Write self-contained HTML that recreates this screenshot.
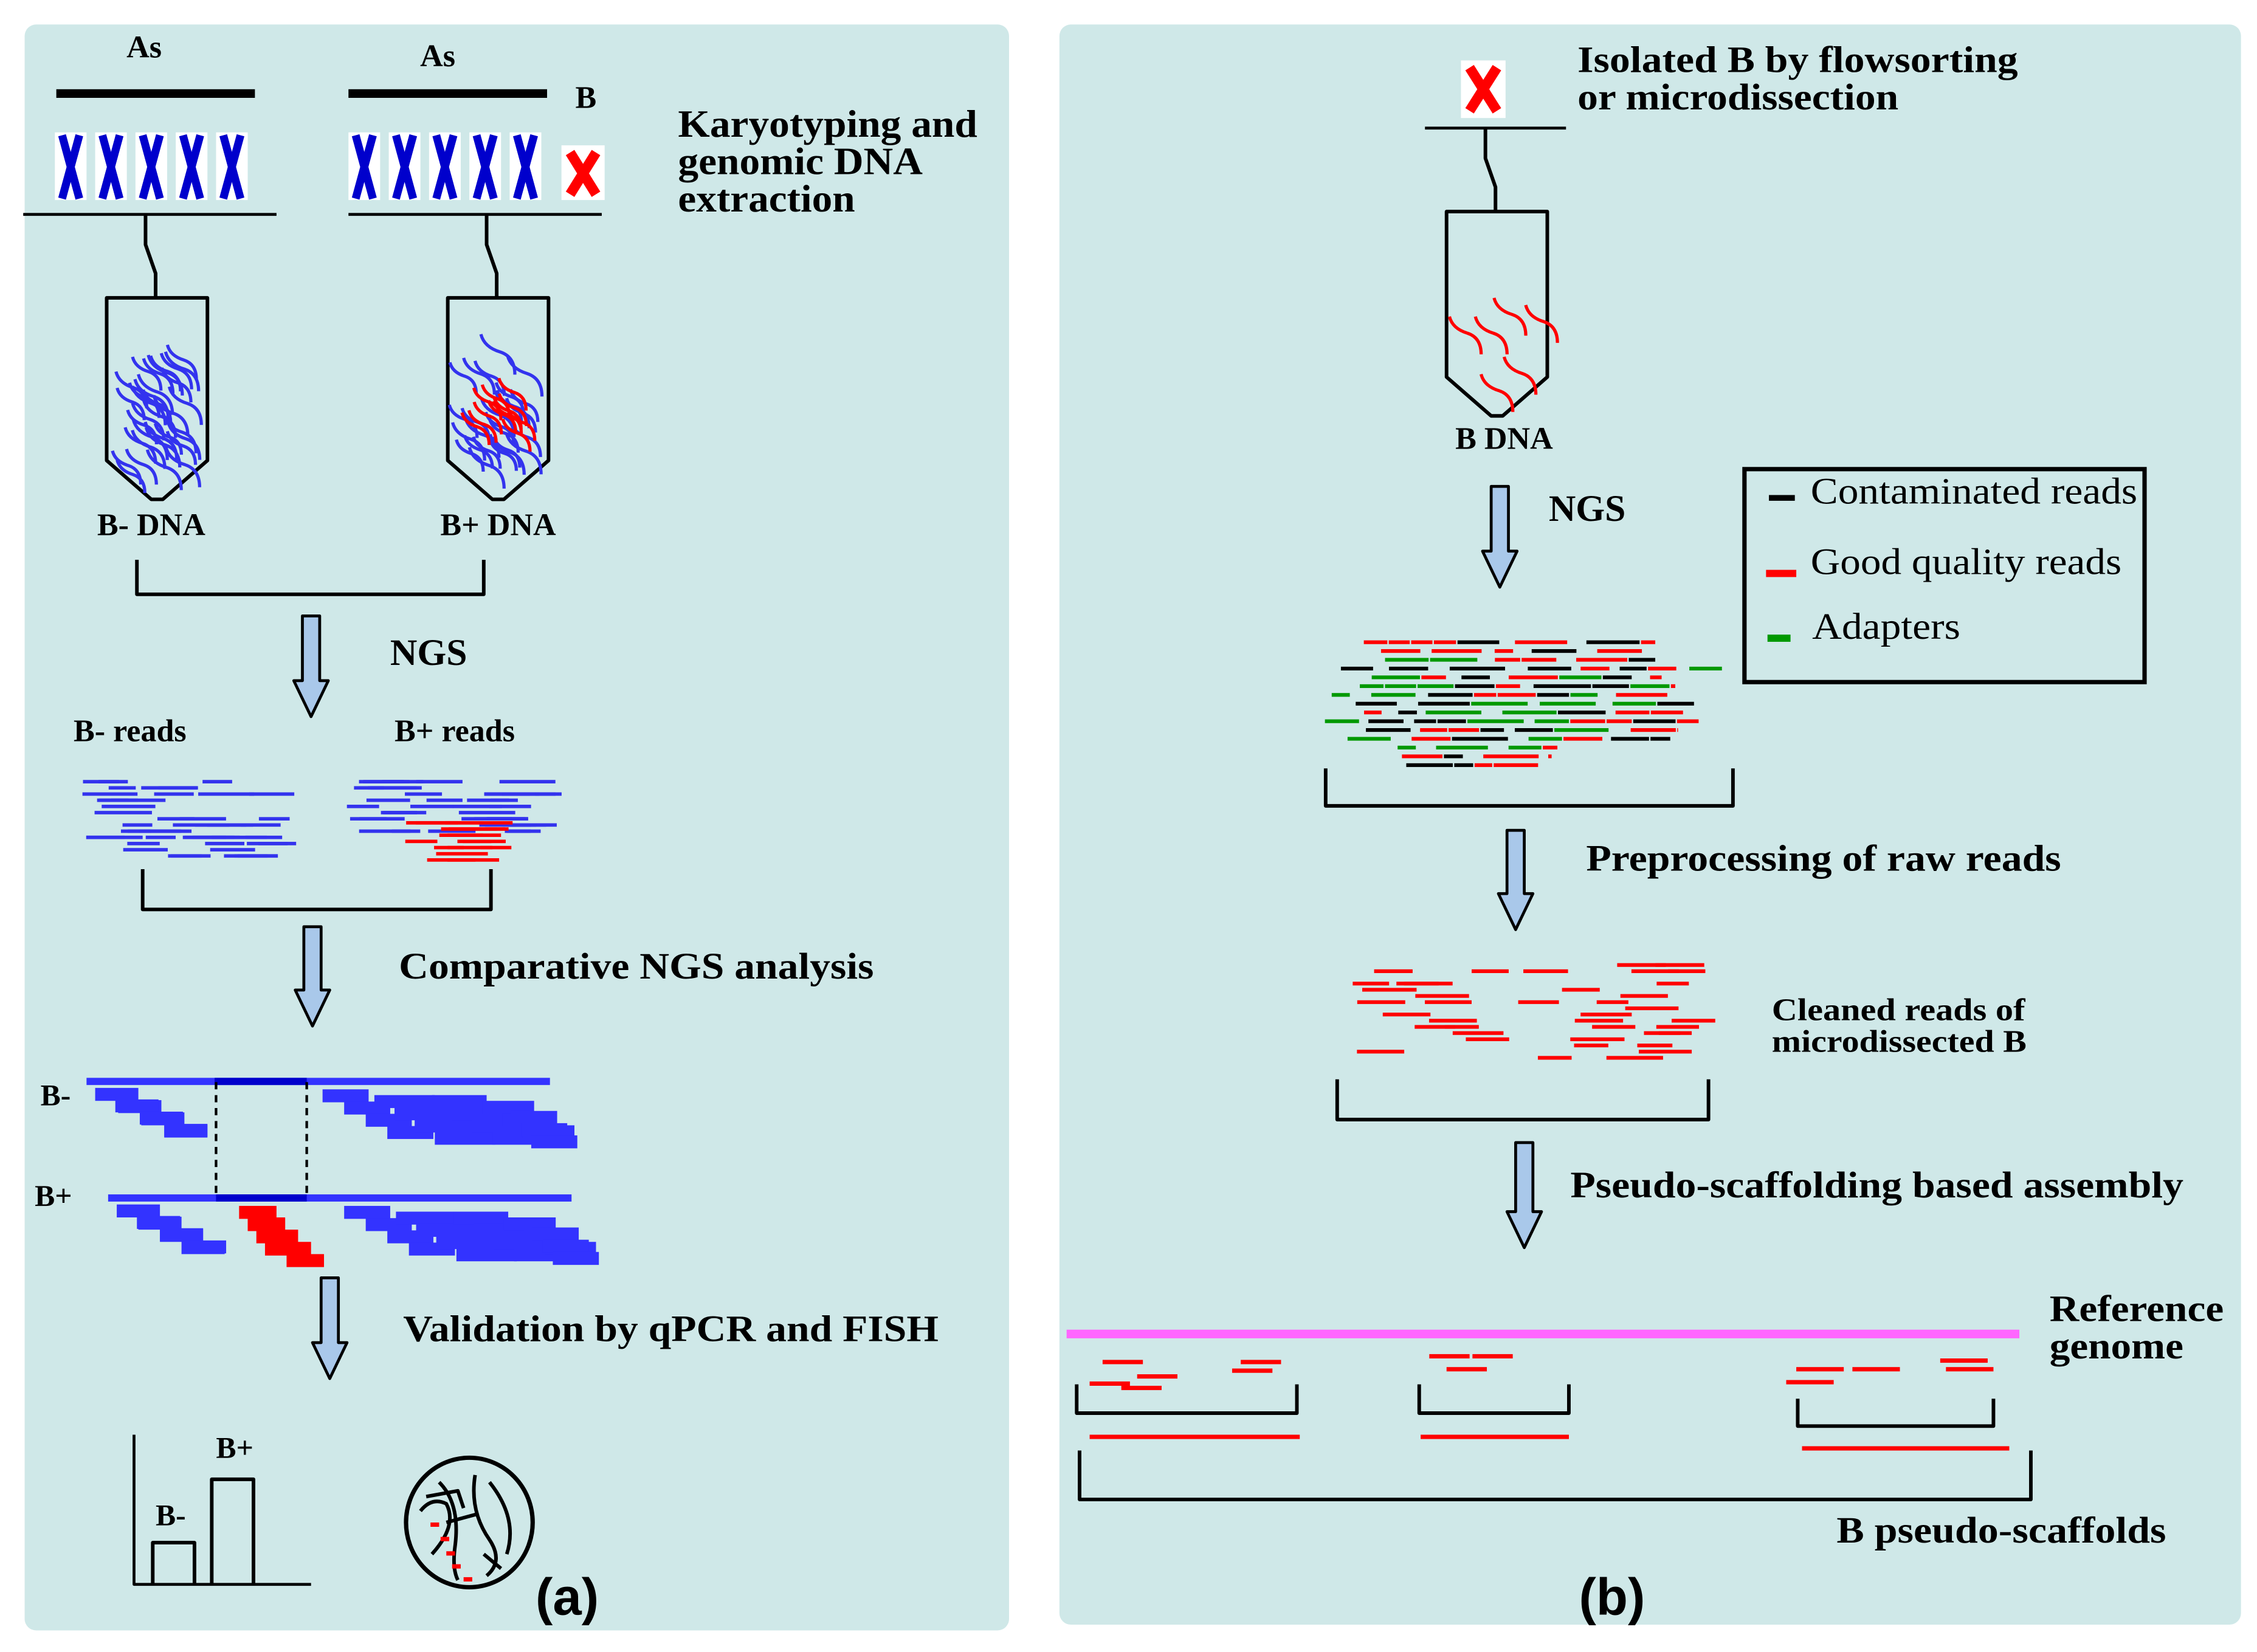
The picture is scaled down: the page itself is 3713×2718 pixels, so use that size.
<!DOCTYPE html>
<html><head><meta charset="utf-8"><style>
html,body{margin:0;padding:0;background:#fff;}
svg{display:block;}
text{font-family:"Liberation Serif",serif;font-weight:bold;fill:#000;}
.r{font-weight:normal;}
</style></head><body>
<svg id="s" xmlns="http://www.w3.org/2000/svg" width="3713" height="2718" viewBox="0 0 1568 1148">
<rect x="0" y="0" width="1568" height="1148" fill="#fff"/>
<rect x="17" y="17" width="684" height="1116" rx="8" fill="#cfe8e8"/>
<rect x="736" y="17" width="821" height="1112" rx="8" fill="#cfe8e8"/>
<g id="g"></g>

<text x="100" y="40" font-size="22" text-anchor="middle">As</text>
<text x="304" y="46" font-size="22" text-anchor="middle">As</text>
<text x="407" y="75" font-size="22" text-anchor="middle">B</text>
<text x="471" y="95" font-size="27" textLength="208" lengthAdjust="spacingAndGlyphs">Karyotyping and</text>
<text x="471" y="121" font-size="27" textLength="170" lengthAdjust="spacingAndGlyphs">genomic DNA</text>
<text x="471" y="147" font-size="27" textLength="123" lengthAdjust="spacingAndGlyphs">extraction</text>
<text x="105" y="372" font-size="22" text-anchor="middle">B- DNA</text>
<text x="346" y="372" font-size="22" text-anchor="middle">B+ DNA</text>
<text x="271" y="462" font-size="26">NGS</text>
<text x="51" y="515" font-size="22">B- reads</text>
<text x="274" y="515" font-size="22">B+ reads</text>
<text x="277" y="680" font-size="26" textLength="330" lengthAdjust="spacingAndGlyphs">Comparative NGS analysis</text>
<text x="28" y="768" font-size="21">B-</text>
<text x="24" y="838" font-size="21">B+</text>
<text x="280" y="932" font-size="26" textLength="372" lengthAdjust="spacingAndGlyphs">Validation by qPCR and FISH</text>
<text x="150" y="1013" font-size="21">B+</text>
<text x="108" y="1060" font-size="21">B-</text>
<text x="372" y="1122" font-size="36" style="font-family:'Liberation Sans',sans-serif">(a)</text>

<text x="1096" y="50" font-size="26" textLength="306" lengthAdjust="spacingAndGlyphs">Isolated B by flowsorting</text>
<text x="1096" y="76" font-size="26" textLength="223" lengthAdjust="spacingAndGlyphs">or microdissection</text>
<text x="1045" y="312" font-size="22" text-anchor="middle">B DNA</text>
<text x="1076" y="362" font-size="26">NGS</text>
<text x="1258" y="350" font-size="26" class="r" textLength="227" lengthAdjust="spacingAndGlyphs">Contaminated reads</text>
<text x="1258" y="399" font-size="26" class="r" textLength="216" lengthAdjust="spacingAndGlyphs">Good quality reads</text>
<text x="1259" y="444" font-size="26" class="r" textLength="103" lengthAdjust="spacingAndGlyphs">Adapters</text>
<text x="1102" y="605" font-size="26" textLength="330" lengthAdjust="spacingAndGlyphs">Preprocessing of raw reads</text>
<text x="1231" y="709" font-size="22" textLength="176" lengthAdjust="spacingAndGlyphs">Cleaned reads of</text>
<text x="1231" y="731" font-size="22" textLength="177" lengthAdjust="spacingAndGlyphs">microdissected B</text>
<text x="1091" y="832" font-size="26" textLength="426" lengthAdjust="spacingAndGlyphs">Pseudo-scaffolding based assembly</text>
<text x="1424" y="918" font-size="26" textLength="121" lengthAdjust="spacingAndGlyphs">Reference</text>
<text x="1424" y="944" font-size="26" textLength="93" lengthAdjust="spacingAndGlyphs">genome</text>
<text x="1276" y="1072" font-size="26" textLength="229" lengthAdjust="spacingAndGlyphs">B pseudo-scaffolds</text>
<text x="1097" y="1122" font-size="36" style="font-family:'Liberation Sans',sans-serif">(b)</text>
</svg>
<script>
(function(){
var g=document.getElementById('g'),NS='http://www.w3.org/2000/svg';
function el(t,a){var e=document.createElementNS(NS,t);for(var k in a)e.setAttribute(k,a[k]);g.appendChild(e);return e;}
function line(x1,y1,x2,y2,c,w,extra){var a={x1:x1,y1:y1,x2:x2,y2:y2,stroke:c,'stroke-width':w};if(extra)for(var k in extra)a[k]=extra[k];return el('line',a);}
function rect(x,y,w,h,c){return el('rect',{x:x,y:y,width:w,height:h,fill:c});}
function path(d,c,w,f){return el('path',{d:d,stroke:c,'stroke-width':w,fill:f||'none','stroke-linejoin':'round'});}
var seed=7;function rnd(){seed=(seed*16807)%2147483647;return (seed-1)/2147483646;}

rect(39,62,138,6,'#000');rect(242,62,138,6,'#000');
line(16,149,192,149,'#000',2);line(242,149,418,149,'#000',2);
line(990,89,1088,89,'#000',2);
function X(cx,col){rect(cx-11,92,22,47,'#fff');
 path('M'+(cx-6)+' 94 Q'+cx+' 116 '+(cx+6)+' 138','#'+col,5.5);
 path('M'+(cx+6)+' 94 Q'+cx+' 116 '+(cx-6)+' 138','#'+col,5.5);}
[49,77,105,133,161].forEach(function(c){X(c,'0000cc');});
[253,281,309,337,365].forEach(function(c){X(c,'0000cc');});
(function(){rect(390,101,30,38,'#fff');path('M396 106 L414 135','#f00',7);path('M414 106 L396 135','#f00',7);})();
(function(){rect(1015,42,31,40,'#fff');path('M1021 47 L1040 77','#f00',7);path('M1040 47 L1021 77','#f00',7);})();

function tube(cx,topLine,ty,by){
 path('M'+(cx-8)+' '+topLine+' L'+(cx-8)+' '+(topLine+21)+' L'+(cx-1)+' '+(topLine+41)+' L'+(cx-1)+' '+ty,'#000',2.5);
 path('M'+(cx-35)+' '+ty+' L'+(cx+35)+' '+ty+' L'+(cx+35)+' '+by+' L'+(cx+4)+' '+(by+27)+' L'+(cx-4)+' '+(by+27)+' L'+(cx-35)+' '+by+' Z','#000',2.5);
}
tube(109,149,207,320);tube(346,149,207,320);tube(1040,89,147,262);
function strand(x,y,c,s){s=s||1;path('M'+x+' '+y+' q'+2*s+' '+8*s+' '+12*s+' '+11*s+' q'+9*s+' '+3*s+' '+9*s+' '+14*s,c,2.2);}
for(var i=0;i<34;i++){strand(78+rnd()*42,235+rnd()*85,'#3333ee',0.85+rnd()*0.3);}
for(var i=0;i<26;i++){strand(312+rnd()*45,232+rnd()*80,'#3333ee',0.85+rnd()*0.3);}
for(var i=0;i<12;i++){strand(318+rnd()*38,262+rnd()*32,'#ff0000',0.9);}
[[1007,220],[1025,220],[1038,207],[1060,212],[1045,248],[1029,260]].forEach(function(p){strand(p[0],p[1],'#ff0000',1.05);});

function br(x1,x2,y1,y2){path('M'+x1+' '+y1+' L'+x1+' '+y2+' L'+x2+' '+y2+' L'+x2+' '+y1,'#000',2.5);}
br(95,336,389,413);br(99,341,604,632);br(921,1204,534,560);br(929,1187,750,778);
br(748,901,962,982);br(986,1090,962,982);br(1249,1385,972,991);br(750,1411,1008,1042);

function arrow(x,y1,y2){var h=25;path('M'+(x-6)+' '+y1+' L'+(x+6)+' '+y1+' L'+(x+6)+' '+(y2-h)+' L'+(x+12)+' '+(y2-h)+' L'+x+' '+y2+' L'+(x-12)+' '+(y2-h)+' L'+(x-6)+' '+(y2-h)+' Z','#000',2,'#a9c8ea');}
arrow(216,428,498);arrow(217,644,713);arrow(229,888,958);
arrow(1042,338,408);arrow(1053,577,646);arrow(1059,794,867);

function reads(x0,x1,y0,y1,n,c){for(var i=0;i<n;i++){var w=18+rnd()*22,x=x0+rnd()*(x1-x0-w),y=y0+Math.round(rnd()*(y1-y0)/4.3)*4.3;rect(x,y,w,2.4,c);}}
reads(57,211,542,595,45,'#3333ee');
reads(237,391,542,580,40,'#3333ee');
reads(280,365,562,601,18,'#ff0000');

rect(60,749,322,5,'#3333ff');rect(149,749,64,5,'#0000cc');
rect(75,830,322,5,'#3333ff');rect(150,830,63,5,'#0000cc');
line(150,752,150,832,'#000',1.8,{'stroke-dasharray':'5,4'});
line(213,752,213,832,'#000',1.8,{'stroke-dasharray':'5,4'});
function stair(x,y,w,n,dx,c){for(var i=0;i<n;i++)rect(x+i*dx,y+i*8.5,w,9,c);}
var B='#3333ff';
stair(66,756,30,4,16,B);stair(80,764,30,3,17,B);
stair(224,757,32,4,15,B);stair(260,761,42,4,14,B);stair(300,761,38,4,14,B);stair(335,765,36,3,14,B);stair(355,772,32,3,7,B);
stair(81,837,30,4,15,B);stair(95,845,30,3,16,B);
stair(239,838,32,4,15,B);stair(275,842,42,4,14,B);stair(315,842,38,4,14,B);stair(350,846,36,3,14,B);stair(370,853,32,3,7,B);
stair(166,838,26,4,6,'#ff0000');stair(172,846,26,4,9,'#ff0000');

path('M93 997 L93 1101 L216 1101','#000',2);
path('M106 1101 L106 1072 L135 1072 L135 1101','#000',2.5);
path('M147 1101 L147 1028 L176 1028 L176 1101','#000',2.5);
el('ellipse',{cx:326,cy:1058,rx:44,ry:45,fill:'none',stroke:'#000','stroke-width':3});
path('M292 1050 Q300 1040 310 1045 Q318 1060 300 1080','#000',2.5);
path('M305 1030 Q320 1045 316 1075 Q314 1090 318 1098','#000',2.5);
path('M330 1025 Q326 1050 340 1070 Q350 1085 338 1095','#000',2.5);
path('M340 1030 Q360 1055 352 1080','#000',2.5);
path('M296 1040 L318 1036 L322 1048','#000',2.5);
path('M310 1058 L332 1052','#000',2.5);
path('M336 1080 L348 1090','#000',2.5);
[[306,1068],[310,1078],[314,1087],[322,1096],[299,1058]].forEach(function(p){rect(p[0],p[1],6,3,'#ff0000');});

el('rect',{x:1212,y:326,width:278,height:148,fill:'none',stroke:'#000','stroke-width':3});
rect(1229,344,18,4,'#000');rect(1227,396,21,5,'#ff0000');rect(1228,441,16,5,'#009900');

var cols=['#ff0000','#000','#009900'];
for(var r=0;r<15;r++){var y=445+r*6.1;var x=920+rnd()*40;var xe=1200-rnd()*50;if(r<3){x=945+rnd()*20;xe=1150;}if(r>11){x=935+r*3;xe=1130-r*4;}
 while(x<xe){var w=12+rnd()*28;var c=cols[Math.floor(rnd()*3)];if(r<2||r>12)c=rnd()<0.6?'#ff0000':'#000';rect(x,y,Math.min(w,xe-x),2.6,c);x+=w+(rnd()<0.5?1:6+rnd()*10);}}
for(var i=0;i<40;i++){var w=22+rnd()*18,x=935+rnd()*(1195-935-w),y=665+Math.round(rnd()*17)*4.3;rect(x,y,w,2.6,'#ff0000');}

rect(741,924,662,6,'#ff66ff');
[[766,945],[779,963],[757,960],[862,945],[856,951],[790,955]].forEach(function(p){rect(p[0],p[1],28,3,'#ff0000');});
rect(757,997,146,3,'#ff0000');
[[993,941],[1023,941],[1005,950]].forEach(function(p){rect(p[0],p[1],28,3,'#ff0000');});
rect(987,997,103,3,'#ff0000');
[[1248,950],[1287,950],[1348,944],[1352,950],[1241,959]].forEach(function(p){rect(p[0],p[1],33,3,'#ff0000');});
rect(1252,1005,144,3,'#ff0000');
})();
</script>
</body></html>
